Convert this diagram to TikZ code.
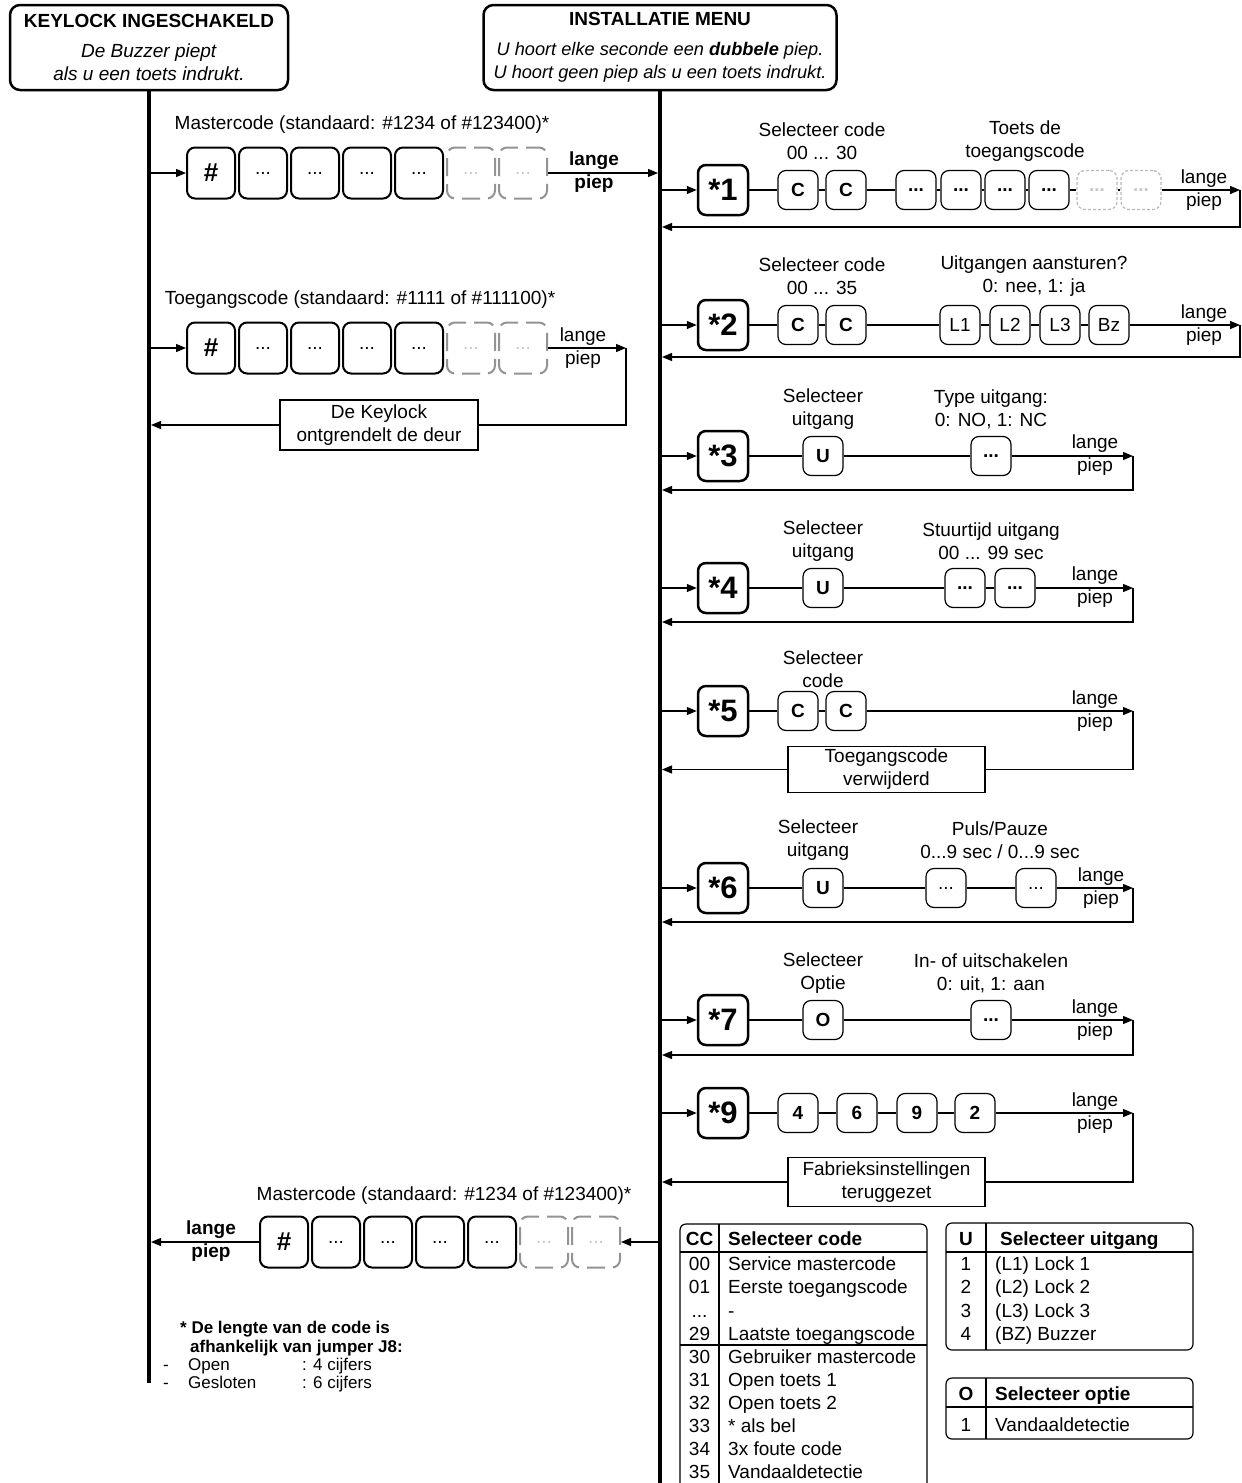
\documentclass[tikz,border=0pt]{standalone}
\usepackage{fontspec}
\setmainfont{Liberation Sans}
\usetikzlibrary{arrows.meta}
\newcommand\fsz[2]{\fontsize{#1}{#2}\selectfont}
\begin{document}
\begin{tikzpicture}[x={(1pt,0pt)},y={(0pt,-1pt)},
  every node/.style={font=\fsz{19}{23}, inner sep=0pt},
  hdr/.style={draw, line width=2.5pt, rounded corners=10pt, align=center, fill=white},
  bus/.style={line width=4pt},
  conn/.style={line width=1.2pt},
  arr/.style={conn, -{Triangle[length=10pt,width=8pt]}},
  key/.style={draw, line width=2pt, rounded corners=8pt, minimum width=48pt, minimum height=51pt},
  keyd/.style={draw=gray!85, line width=2pt, dash pattern=on 18pt off 8pt, dash phase=5pt, rounded corners=8pt, minimum width=48pt, minimum height=51pt, text=gray!45},
  star/.style={draw, line width=2.5pt, rounded corners=8pt, minimum width=50pt, minimum height=50pt, font=\bfseries\fsz{31}{31}},
  sk/.style={draw, line width=1.2pt, rounded corners=8pt, minimum width=40pt, minimum height=39pt},
  skb/.style={sk, font=\bfseries\fsz{19}{23}},
  skd/.style={sk, draw=gray!55, dash pattern=on 3pt off 2pt, text=gray!45, font=\bfseries\fsz{19}{23}},
  lbl/.style={align=center},
  msg/.style={draw, line width=1.2pt, align=center, fill=white},
  tbl/.style={line width=1.2pt},
  fn/.style={anchor=base west, font=\fsz{17}{18.5}},
  fnb/.style={anchor=base west, font=\bfseries\fsz{17}{18.5}},
  tb/.style={anchor=base, font=\fsz{19}{23}},
  tbw/.style={anchor=base west, font=\fsz{19}{23}},
  th/.style={anchor=base, font=\bfseries\fsz{19}{23}},
  thw/.style={anchor=base west, font=\bfseries\fsz{19}{23}}
]
\useasboundingbox (0,0) rectangle (1242,1483);

% ---------- headers and buses ----------
\node[hdr, minimum width=278pt, minimum height=85pt] (kl) at (149,47.5)
  {\textbf{KEYLOCK INGESCHAKELD}\\[7pt]\textit{De Buzzer piept}\\\textit{als u een toets indrukt.}};
\node[hdr, minimum width=353pt, minimum height=85pt] (im) at (660,47.5)
  {\textbf{INSTALLATIE MENU}\\[7pt]{\fsz{18.2}{23}\textit{U hoort elke seconde een \textbf{dubbele} piep.}}\\{\fsz{18.2}{23}\textit{U hoort geen piep als u een toets indrukt.}}};
\coordinate (lend) at (149,1383);
\coordinate (rend) at (660,1483);
\draw[bus] (kl.south) -- (lend);
\draw[bus] (im.south) -- (rend);

% ---------- left row A: mastercode ----------
\node[lbl] (laL) at (362,125) {Mastercode (standaard: \#1234 of \#123400)*};
\node[key, font=\bfseries\fsz{26}{26}] (ka1) at (211,173) {\#};
\node[key] (ka2) at (263,173) {...};
\node[key] (ka3) at (315,173) {...};
\node[key] (ka4) at (367,173) {...};
\node[key] (ka5) at (419,173) {...};
\node[keyd] (ka6) at (471,173) {...};
\node[keyd] (ka7) at (523,173) {...};
\coordinate (la) at (149,173);
\coordinate (ra) at (658,173);
\draw[arr] (la) -- (ka1);
\draw[arr] (ka7) -- (ra);
\node[lbl, font=\bfseries\fsz{19}{23}] (lpa) at (594,172.5) {lange\\piep};

% ---------- left row B: toegangscode ----------
\node[lbl] (lbL) at (360,300) {Toegangscode (standaard: \#1111 of \#111100)*};
\node[key, font=\bfseries\fsz{26}{26}] (kb1) at (211,348) {\#};
\node[key] (kb2) at (263,348) {...};
\node[key] (kb3) at (315,348) {...};
\node[key] (kb4) at (367,348) {...};
\node[key] (kb5) at (419,348) {...};
\node[keyd] (kb6) at (471,348) {...};
\node[keyd] (kb7) at (523,348) {...};
\coordinate (lb0) at (149,348);
\coordinate (eb) at (626,348);
\coordinate (lb) at (151,425);
\draw[arr] (lb0) -- (kb1);
\draw[arr] (kb7) -- (eb);
\node[lbl] (lpb) at (583,348.5) {lange\\piep};
\node[msg, minimum width=198pt, minimum height=50pt] (unl) at (379,425) {De Keylock\\ontgrendelt de deur};
\draw[conn] (eb) |- (unl.east);
\draw[arr] (unl.west) -- (lb);

% ---------- left row C: mastercode exit ----------
\node[lbl] (lcL) at (444,1196) {Mastercode (standaard: \#1234 of \#123400)*};
\node[key, font=\bfseries\fsz{26}{26}] (kc1) at (284,1242) {\#};
\node[key] (kc2) at (336,1242) {...};
\node[key] (kc3) at (388,1242) {...};
\node[key] (kc4) at (440,1242) {...};
\node[key] (kc5) at (492,1242) {...};
\node[keyd] (kc6) at (544,1242) {...};
\node[keyd] (kc7) at (596,1242) {...};
\coordinate (rc) at (658,1242);
\coordinate (lc) at (151,1242);
\draw[arr] (rc) -- (kc7);
\draw[arr] (kc1) -- (lc);
\node[lbl, font=\bfseries\fsz{19}{23}] (lpc) at (211,1241) {lange\\piep};

% ---------- right rows ----------
% *1
\coordinate (r1) at (660,190);
\node[star] (s1) at (723,190) {*1};
\node[skb] (c1a) at (798,190) {C};
\node[skb] (c1b) at (846,190) {C};
\node[skb] (d1a) at (916,190) {...};
\node[skb] (d1b) at (961,190) {...};
\node[skb] (d1c) at (1005,190) {...};
\node[skb] (d1d) at (1049,190) {...};
\node[skd] (d1e) at (1097,190) {...};
\node[skd] (d1f) at (1141,190) {...};
\coordinate (e1) at (1240,190);
\coordinate (b1) at (662,227);
\draw[arr] (r1) -- (s1);
\draw[conn] (s1) edge (c1a) (c1a) edge (c1b) (c1b) edge (d1a) (d1a) edge (d1b) (d1b) edge (d1c) (d1c) edge (d1d) (d1d) edge (d1e) (d1e) edge (d1f);
\draw[arr] (d1f) -- (e1);
\draw[arr] (e1) |- (b1);
\node[lbl] (t1a) at (822,141.5) {Selecteer code\\00 ... 30};
\node[lbl] (t1b) at (1025,141.5) {Toets de\\toegangscode};
\node[lbl] (lp1) at (1204,190.5) {lange\\piep};

% *2
\coordinate (r2) at (660,325);
\node[star] (s2) at (723,325) {*2};
\node[skb] (c2a) at (798,325) {C};
\node[skb] (c2b) at (846,325) {C};
\node[sk] (o2a) at (960,325) {L1};
\node[sk] (o2b) at (1010,325) {L2};
\node[sk] (o2c) at (1060,325) {L3};
\node[sk] (o2d) at (1109,325) {Bz};
\coordinate (e2) at (1240,325);
\coordinate (b2) at (662,357);
\draw[arr] (r2) -- (s2);
\draw[conn] (s2) edge (c2a) (c2a) edge (c2b) (c2b) edge (o2a) (o2a) edge (o2b) (o2b) edge (o2c) (o2c) edge (o2d);
\draw[arr] (o2d) -- (e2);
\draw[arr] (e2) |- (b2);
\node[lbl] (t2a) at (822,276.5) {Selecteer code\\00 ... 35};
\node[lbl] (t2b) at (1034,276.5) {Uitgangen aansturen?\\0: nee, 1: ja};
\node[lbl] (lp2) at (1204,325.5) {lange\\piep};

% *3
\coordinate (r3) at (660,456);
\node[star] (s3) at (723,456) {*3};
\node[skb] (u3) at (823,456) {U};
\node[skb] (d3) at (991,456) {...};
\coordinate (e3) at (1133,456);
\coordinate (b3) at (662,490);
\draw[arr] (r3) -- (s3);
\draw[conn] (s3) edge (u3) (u3) edge (d3);
\draw[arr] (d3) -- (e3);
\draw[arr] (e3) |- (b3);
\node[lbl] (t3a) at (823,409) {Selecteer\\uitgang};
\node[lbl] (t3b) at (991,409) {Type uitgang:\\0: NO, 1: NC};
\node[lbl] (lp3) at (1095,455.5) {lange\\piep};

% *4
\coordinate (r4) at (660,588);
\node[star] (s4) at (723,588) {*4};
\node[skb] (u4) at (823,588) {U};
\node[skb] (d4a) at (965,588) {...};
\node[skb] (d4b) at (1015,588) {...};
\coordinate (e4) at (1133,588);
\coordinate (b4) at (662,622);
\draw[arr] (r4) -- (s4);
\draw[conn] (s4) edge (u4) (u4) edge (d4a) (d4a) edge (d4b);
\draw[arr] (d4b) -- (e4);
\draw[arr] (e4) |- (b4);
\node[lbl] (t4a) at (823,541.5) {Selecteer\\uitgang};
\node[lbl] (t4b) at (991,541.5) {Stuurtijd uitgang\\00 ... 99 sec};
\node[lbl] (lp4) at (1095,587.5) {lange\\piep};

% *5
\coordinate (r5) at (660,711);
\node[star] (s5) at (723,711) {*5};
\node[skb] (c5a) at (798,711) {C};
\node[skb] (c5b) at (846,711) {C};
\coordinate (e5) at (1133,711);
\coordinate (b5) at (662,769.5);
\draw[arr] (r5) -- (s5);
\draw[conn] (s5) edge (c5a) (c5a) edge (c5b);
\draw[arr] (c5b) -- (e5);
\node[msg, minimum width=197pt, minimum height=46pt] (m5) at (886.5,769.5) {Toegangscode\\verwijderd};
\draw[conn] (e5) |- (m5.east);
\draw[arr] (m5.west) -- (b5);
\node[lbl] (t5a) at (823,669) {Selecteer\\code};
\node[lbl] (lp5) at (1095,711) {lange\\piep};

% *6
\coordinate (r6) at (660,888);
\node[star] (s6) at (723,888) {*6};
\node[skb] (u6) at (823,888) {U};
\node[sk] (d6a) at (946,888) {...};
\node[sk] (d6b) at (1036,888) {...};
\coordinate (e6) at (1133,888);
\coordinate (b6) at (662,922);
\draw[arr] (r6) -- (s6);
\draw[conn] (s6) edge (u6) (u6) edge (d6a) (d6a) edge (d6b);
\draw[arr] (d6b) -- (e6);
\draw[arr] (e6) |- (b6);
\node[lbl] (t6a) at (818,840.5) {Selecteer\\uitgang};
\node[lbl] (t6b) at (1000,840.5) {Puls/Pauze\\0...9 sec / 0...9 sec};
\node[lbl] (lp6) at (1101,888) {lange\\piep};

% *7
\coordinate (r7) at (660,1020);
\node[star] (s7) at (723,1020) {*7};
\node[skb] (o7) at (823,1020) {O};
\node[skb] (d7) at (991,1020) {...};
\coordinate (e7) at (1133,1020);
\coordinate (b7) at (662,1055);
\draw[arr] (r7) -- (s7);
\draw[conn] (s7) edge (o7) (o7) edge (d7);
\draw[arr] (d7) -- (e7);
\draw[arr] (e7) |- (b7);
\node[lbl] (t7a) at (823,973) {Selecteer\\Optie};
\node[lbl] (t7b) at (991,973) {In- of uitschakelen\\0: uit, 1: aan};
\node[lbl] (lp7) at (1095,1020) {lange\\piep};

% *9
\coordinate (r9) at (660,1113);
\node[star] (s9) at (723,1113) {*9};
\node[skb] (n4) at (798,1113) {4};
\node[skb] (n6) at (857,1113) {6};
\node[skb] (n9) at (917,1113) {9};
\node[skb] (n2) at (975,1113) {2};
\coordinate (e9) at (1133,1113);
\coordinate (b9) at (662,1182);
\draw[arr] (r9) -- (s9);
\draw[conn] (s9) edge (n4) (n4) edge (n6) (n6) edge (n9) (n9) edge (n2);
\draw[arr] (n2) -- (e9);
\node[msg, minimum width=197pt, minimum height=49pt] (m9) at (886.5,1182) {Fabrieksinstellingen\\teruggezet};
\draw[conn] (e9) |- (m9.east);
\draw[arr] (m9.west) -- (b9);
\node[lbl] (lp9) at (1095,1113) {lange\\piep};

% ---------- footnote ----------
\node[fnb] (f1) at (180,1333) {* De lengte van de code is};
\node[fnb] (f2) at (190,1352) {afhankelijk van jumper J8:};
\node[fn] (f3a) at (163,1370) {-};
\node[fn] (f3b) at (188,1370) {Open};
\node[fn] (f3c) at (302,1370) {: 4 cijfers};
\node[fn] (f4a) at (163,1388) {-};
\node[fn] (f4b) at (188,1388) {Gesloten};
\node[fn] (f4c) at (302,1388) {: 6 cijfers};

% ---------- CC table ----------
\draw[tbl, rounded corners=6pt] (680,1490) -- (680,1224) -- (927,1224) -- (927,1490);
\draw[tbl] (680,1252) -- (927,1252);
\draw[tbl] (680,1345) -- (927,1345);
\draw[tbl] (719,1224) -- (719,1490);
\node[th] (cch) at (699.5,1245) {CC};
\node[thw] (cct) at (728,1245) {Selecteer code};
\node[tb] (ccn1) at (699.5,1270) {00};  \node[tbw] (cct1) at (728,1270) {Service mastercode};
\node[tb] (ccn2) at (699.5,1293.5) {01};  \node[tbw] (cct2) at (728,1293.5) {Eerste toegangscode};
\node[tb] (ccn3) at (699.5,1317) {...}; \node[tbw] (cct3) at (728,1317) {-};
\node[tb] (ccn4) at (699.5,1340) {29};  \node[tbw] (cct4) at (728,1340) {Laatste toegangscode};
\node[tb] (ccn5) at (699.5,1363) {30};  \node[tbw] (cct5) at (728,1363) {Gebruiker mastercode};
\node[tb] (ccn6) at (699.5,1386) {31};  \node[tbw] (cct6) at (728,1386) {Open toets 1};
\node[tb] (ccn7) at (699.5,1409) {32};  \node[tbw] (cct7) at (728,1409) {Open toets 2};
\node[tb] (ccn8) at (699.5,1432) {33};  \node[tbw] (cct8) at (728,1432) {* als bel};
\node[tb] (ccn9) at (699.5,1455) {34};  \node[tbw] (cct9) at (728,1455) {3x foute code};
\node[tb] (ccn10) at (699.5,1478) {35}; \node[tbw] (cct10) at (728,1478) {Vandaaldetectie};

% ---------- U table ----------
\draw[tbl, rounded corners=6pt] (946,1223) rectangle (1193,1350);
\draw[tbl] (946,1252) -- (1193,1252);
\draw[tbl] (986,1223) -- (986,1350);
\node[th] (uh) at (966,1245) {U};
\node[thw] (ut) at (1000,1245) {Selecteer uitgang};
\node[tb] (un1) at (966,1270) {1}; \node[tbw] (ut1) at (995,1270) {(L1) Lock 1};
\node[tb] (un2) at (966,1293.5) {2}; \node[tbw] (ut2) at (995,1293.5) {(L2) Lock 2};
\node[tb] (un3) at (966,1317) {3}; \node[tbw] (ut3) at (995,1317) {(L3) Lock 3};
\node[tb] (un4) at (966,1340) {4}; \node[tbw] (ut4) at (995,1340) {(BZ) Buzzer};

% ---------- O table ----------
\draw[tbl, rounded corners=6pt] (946,1378) rectangle (1193,1439);
\draw[tbl] (946,1407) -- (1193,1407);
\draw[tbl] (986,1378) -- (986,1439);
\node[th] (oh) at (966,1400) {O};
\node[thw] (ot) at (995,1400) {Selecteer optie};
\node[tb] (on1) at (966,1431) {1};
\node[tbw] (ot1) at (995,1431) {Vandaaldetectie};

\end{tikzpicture}
\end{document}
